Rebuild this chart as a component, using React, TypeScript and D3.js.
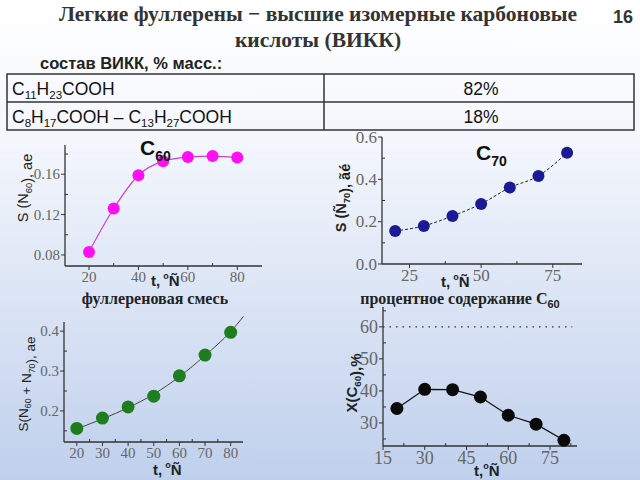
import React from "react";
import * as d3 from "d3";

// ---- data ----
const tempC = [20, 30, 40, 50, 60, 70, 80];
const sC60 = [0.083, 0.126, 0.159, 0.173, 0.177, 0.178, 0.1765];
const sC70 = [0.156, 0.18, 0.227, 0.284, 0.361, 0.416, 0.526];
const sMix = [0.156, 0.182, 0.21, 0.237, 0.288, 0.34, 0.397];
const fitMixT = [20, 30, 40, 50, 60, 70, 80, 85];
const fitMixS = [0.155, 0.18, 0.208, 0.242, 0.286, 0.339, 0.399, 0.437];
const xC60 = [34.5, 40.5, 40.4, 38.1, 32.4, 29.6, 24.6];
const refLevel = 60;

const tableRows = [
  { formula: [["C", ""], ["11", "s"], ["H", ""], ["23", "s"], ["COOH", ""]], value: "82%" },
  {
    formula: [["C", ""], ["8", "s"], ["H", ""], ["17", "s"], ["COOH – C", ""], ["13", "s"], ["H", ""], ["27", "s"], ["COOH", ""]],
    value: "18%",
  },
];

const p1XTicks = [20, 40, 60, 80];
const p1XMinor = [30, 50, 70];
const p1YTicks = [0.08, 0.12, 0.16];
const p1YMinor = [0.1, 0.14, 0.18];
const p2XTicks = [25, 50, 75];
const p2XMinor = [37.5, 62.5];
const p2YTicks = [0.0, 0.2, 0.4, 0.6];
const p2YMinor = [0.1, 0.3, 0.5];
const p3XTicks = [20, 30, 40, 50, 60, 70, 80];
const p3XMinor = [25, 35, 45, 55, 65, 75];
const p3YTicks = [0.2, 0.3, 0.4];
const p3YMinor = [0.15, 0.25, 0.35];
const p4XTicks = [15, 30, 45, 60, 75];
const p4XMinor = [22.5, 37.5, 52.5, 67.5, 82.5];
const p4YTicks = [30, 40, 50, 60];
const p4YMinor = [25, 35, 45, 55, 65];

const SERIF = "'Liberation Serif', 'Times New Roman', serif";
const SANS = "'Liberation Sans', Arial, sans-serif";

type PanelProps = {
  x: d3.ScaleLinear<number, number>;
  y: d3.ScaleLinear<number, number>;
  xTicks: number[];
  xMinor: number[];
  yTicks: number[];
  yMinor: number[];
  yFmt: (v: number) => string;
  fontSize: number;
  xLabelDy: number;
};

function Axes(p: PanelProps) {
  const [x0, x1] = p.x.range();
  const [y0, y1] = p.y.range();
  const col = "#333";
  return (
    <g>
      <line x1={x0} x2={x0} y1={y0} y2={y1} stroke={col} strokeWidth={1.3} />
      <line x1={x0} x2={x1} y1={y0} y2={y0} stroke={col} strokeWidth={1.3} />
      {p.xTicks.map((t) => (
        <g key={"xt" + t}>
          <line x1={p.x(t)} x2={p.x(t)} y1={y0} y2={y0 + 4} stroke={col} />
          <text
            x={p.x(t)}
            y={y0 + p.xLabelDy}
            textAnchor="middle"
            fontFamily={SERIF}
            fontSize={p.fontSize}
            fill="#666"
          >
            {t}
          </text>
        </g>
      ))}
      {p.xMinor.map((t) => (
        <line key={"xm" + t} x1={p.x(t)} x2={p.x(t)} y1={y0} y2={y0 - 3} stroke={col} />
      ))}
      {p.yTicks.map((t) => (
        <g key={"yt" + t}>
          <line x1={x0 - 4} x2={x0} y1={p.y(t)} y2={p.y(t)} stroke={col} />
          <text
            x={x0 - 5}
            y={p.y(t) + p.fontSize * 0.33}
            textAnchor="end"
            fontFamily={SERIF}
            fontSize={p.fontSize}
            fill="#666"
          >
            {p.yFmt(t)}
          </text>
        </g>
      ))}
      {p.yMinor.map((t) => (
        <line key={"ym" + t} x1={x0} x2={x0 + 3} y1={p.y(t)} y2={p.y(t)} stroke={col} />
      ))}
    </g>
  );
}

function Sub({ base, sub, fs }: { base: string; sub: string; fs: number }) {
  return (
    <>
      <tspan>{base}</tspan>
      <tspan fontSize={fs * 0.65} dy={fs * 0.25}>
        {sub}
      </tspan>
      <tspan dy={-fs * 0.25}></tspan>
    </>
  );
}

function TLabel({ x, y, tight }: { x: number; y: number; tight?: boolean }) {
  return (
    <text x={x} y={y} fontFamily={SANS} fontWeight="bold" fontSize={15} fill="#222">
      {"t,"}
      <tspan fontSize={9} dy={-7} dx={tight ? 0 : 3}>
        o
      </tspan>
      <tspan dy={7}>Ñ</tspan>
    </text>
  );
}

export default function App() {
  // panel 1
  const x1 = d3.scaleLinear().domain([10.3, 90]).range([65, 262]);
  const y1 = d3.scaleLinear().domain([0.069, 0.189]).range([266, 145]);
  // panel 2
  const x2 = d3.scaleLinear().domain([15.4, 85.2]).range([382, 582]);
  const y2 = d3.scaleLinear().domain([0, 0.6]).range([264, 137]);
  // panel 3
  const x3 = d3.scaleLinear().domain([15, 84.8]).range([64, 243]);
  const y3 = d3.scaleLinear().domain([0.122, 0.423]).range([442, 322]);
  // panel 4
  const x4 = d3.scaleLinear().domain([15, 84.7]).range([383, 577]);
  const y4 = d3.scaleLinear().domain([22.8, 66.2]).range([446, 307]);

  const line1 = d3
    .line<number>()
    .x((_, i) => x1(tempC[i]))
    .y((d) => y1(d))
    .curve(d3.curveMonotoneX)(sC60);
  const line2 = d3
    .line<number>()
    .x((_, i) => x2(tempC[i]))
    .y((d) => y2(d))
    .curve(d3.curveMonotoneX)(sC70);
  const line3 = d3
    .line<number>()
    .x((_, i) => x3(fitMixT[i]))
    .y((d) => y3(d))
    .curve(d3.curveMonotoneX)(fitMixS);
  const line4 = d3
    .line<number>()
    .x((_, i) => x4(tempC[i]))
    .y((d) => y4(d))(xC60);

  const f2 = (v: number) => v.toFixed(2);
  const f1 = (v: number) => v.toFixed(1);
  const f0 = (v: number) => String(v);

  return (
    <svg
      width={640}
      height={480}
      style={{ position: "absolute", left: 0, top: 0, display: "block" }}
    >
      <defs>
        <linearGradient id="bg" x1="0" y1="0" x2="0" y2="1">
          <stop offset="0" stopColor="#ffffff" />
          <stop offset="0.3" stopColor="#f3f6fc" />
          <stop offset="1" stopColor="#bfd0ec" />
        </linearGradient>
      </defs>
      <rect x={0} y={0} width={640} height={480} fill="url(#bg)" />

      {/* title */}
      <text x={318} y={21} textAnchor="middle" fontFamily={SERIF} fontWeight="bold" fontSize={21.5} fill="#333">
        Легкие фуллерены − высшие изомерные карбоновые
      </text>
      <text x={318} y={47} textAnchor="middle" fontFamily={SERIF} fontWeight="bold" fontSize={21.5} fill="#333">
        кислоты (ВИКК)
      </text>
      <text x={633} y={23} textAnchor="end" fontFamily={SANS} fontWeight="bold" fontSize={18} fill="#333">
        16
      </text>
      <text x={40} y={69} fontFamily={SANS} fontWeight="bold" fontSize={16.5} fill="#222">
        состав ВИКК, % масс.:
      </text>

      {/* table */}
      <g>
        <rect x={7} y={74} width={627} height={56} fill="none" stroke="#333" strokeWidth={1.5} />
        <line x1={7} x2={634} y1={102} y2={102} stroke="#333" strokeWidth={1.5} />
        <line x1={324} x2={324} y1={74} y2={130} stroke="#333" strokeWidth={1.5} />
        {tableRows.map((r, i) => (
          <g key={i}>
            <text x={12} y={95 + i * 28} fontFamily={SANS} fontSize={17.5} fill="#111">
              {r.formula.map(([t, k], j) =>
                k === "s" ? (
                  <tspan key={j} fontSize={11.5} dy={4}>
                    {t}
                  </tspan>
                ) : (
                  <tspan key={j} dy={j > 0 && r.formula[j - 1][1] === "s" ? -4 : 0}>
                    {t}
                  </tspan>
                )
              )}
            </text>
            <text x={481} y={95 + i * 28} textAnchor="middle" fontFamily={SANS} fontSize={17.5} fill="#111">
              {r.value}
            </text>
          </g>
        ))}
      </g>

      {/* panel 1: C60 */}
      <Axes x={x1} y={y1} xTicks={p1XTicks} xMinor={p1XMinor} yTicks={p1YTicks} yMinor={p1YMinor} yFmt={f2} fontSize={15} xLabelDy={16} />
      <path d={line1 || ""} fill="none" stroke="#d040d0" strokeWidth={1.2} />
      {sC60.map((v, i) => (
        <circle key={i} cx={x1(tempC[i])} cy={y1(v)} r={6} fill="#ff10f0" />
      ))}
      <text x={140} y={155} fontFamily={SANS} fontWeight="bold" fontSize={21} fill="#111">
        C
        <tspan fontSize={14} dy={6}>
          60
        </tspan>
      </text>
      <text transform="translate(28,188) rotate(-90)" textAnchor="middle" fontFamily={SANS} fontSize={14.5} fill="#222">
        S (<Sub base="N" sub="60" fs={14.5} />), ae
      </text>
      <TLabel x={151} y={286} />
      <text x={155} y={304} textAnchor="middle" fontFamily={SERIF} fontWeight="bold" fontSize={16} fill="#222">
        фуллереновая смесь
      </text>

      {/* panel 2: C70 */}
      <Axes x={x2} y={y2} xTicks={p2XTicks} xMinor={p2XMinor} yTicks={p2YTicks} yMinor={p2YMinor} yFmt={f1} fontSize={17} xLabelDy={17} />
      <path d={line2 || ""} fill="none" stroke="#222" strokeWidth={1} strokeDasharray="3,2" />
      {sC70.map((v, i) => (
        <circle key={i} cx={x2(tempC[i])} cy={y2(v)} r={6} fill="#1a1a96" />
      ))}
      <text x={476} y={160} fontFamily={SANS} fontWeight="bold" fontSize={21} fill="#111">
        C
        <tspan fontSize={14} dy={6}>
          70
        </tspan>
      </text>
      <text transform="translate(346,198) rotate(-90)" textAnchor="middle" fontFamily={SANS} fontWeight="bold" fontSize={14.5} fill="#222">
        S (<Sub base="Ñ" sub="70" fs={14.5} />), ãé
      </text>
      <TLabel x={441} y={287} />
      <text x={460} y={304} textAnchor="middle" fontFamily={SERIF} fontWeight="bold" fontSize={16} fill="#222">
        процентное содержание C
        <tspan fontFamily={SANS} fontSize={11} dy={4}>
          60
        </tspan>
      </text>

      {/* panel 3: mixture */}
      <Axes x={x3} y={y3} xTicks={p3XTicks} xMinor={p3XMinor} yTicks={p3YTicks} yMinor={p3YMinor} yFmt={f1} fontSize={15} xLabelDy={16} />
      <path d={line3 || ""} fill="none" stroke="#444" strokeWidth={1} />
      {sMix.map((v, i) => (
        <circle key={i} cx={x3(tempC[i])} cy={y3(v)} r={6.5} fill="#1e7d1e" />
      ))}
      <text transform="translate(28,384) rotate(-90)" textAnchor="middle" fontFamily={SANS} fontSize={13.5} fill="#222">
        S(<Sub base="N" sub="60" fs={13.5} /> + <Sub base="N" sub="70" fs={13.5} />), ae
      </text>
      <TLabel x={153} y={475} />

      {/* panel 4: X(C60) */}
      <Axes x={x4} y={y4} xTicks={p4XTicks} xMinor={p4XMinor} yTicks={p4YTicks} yMinor={p4YMinor} yFmt={f0} fontSize={18} xLabelDy={18} />
      <line x1={x4(15)} x2={x4(83)} y1={y4(refLevel)} y2={y4(refLevel)} stroke="#333" strokeWidth={1.2} strokeDasharray="1.5,5" />
      <path d={line4 || ""} fill="none" stroke="#111" strokeWidth={1.3} />
      {xC60.map((v, i) => (
        <circle key={i} cx={x4(tempC[i])} cy={y4(v)} r={6.5} fill="#0a0a0a" />
      ))}
      <text transform="translate(357,383) rotate(-90)" textAnchor="middle" fontFamily={SANS} fontWeight="bold" fontSize={15} fill="#222">
        X(<Sub base="C" sub="60" fs={15} />),%
      </text>
      <TLabel x={474} y={476} tight />
    </svg>
  );
}
